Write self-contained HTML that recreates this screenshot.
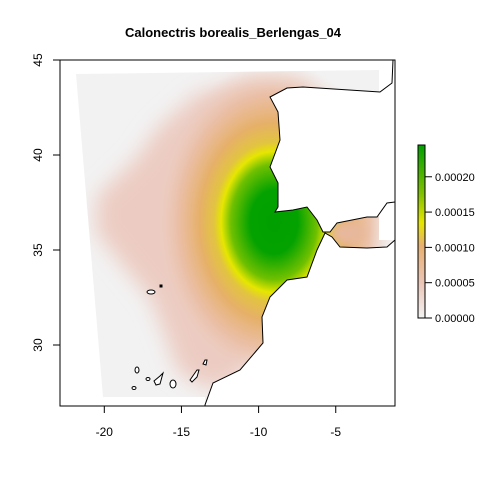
<!DOCTYPE html>
<html><head><meta charset="utf-8"><style>
body{margin:0;background:#fff;}
svg text{font-family:"Liberation Sans",Arial,sans-serif;}
</style></head><body>
<svg id="chart" width="480" height="480" viewBox="0 0 480 480" xmlns="http://www.w3.org/2000/svg">
<defs>
<filter id="blur" x="-30%" y="-30%" width="160%" height="160%"><feGaussianBlur stdDeviation="10"/></filter>
<filter id="blur2" x="-30%" y="-30%" width="160%" height="160%"><feGaussianBlur stdDeviation="5"/></filter>
<radialGradient id="core" cx="274" cy="222" r="1" gradientUnits="userSpaceOnUse" gradientTransform="translate(274 222) scale(120 160) translate(-274 -222)">
<stop offset="0" stop-color="#00a000"/>
<stop offset="0.2" stop-color="#04a200"/>
<stop offset="0.36" stop-color="#70c000"/>
<stop offset="0.44" stop-color="#e6e600"/>
<stop offset="0.5" stop-color="#e2c440"/>
<stop offset="0.62" stop-color="#e6b068"/>
<stop offset="0.8" stop-color="#eabca0" stop-opacity="0.85"/>
<stop offset="1" stop-color="#eccfc6" stop-opacity="0"/>
</radialGradient>
<linearGradient id="cbar" x1="0" y1="1" x2="0" y2="0">
<stop offset="0" stop-color="#f2f2f2"/>
<stop offset="0.2" stop-color="#ebc6b8"/>
<stop offset="0.42" stop-color="#e8b070"/>
<stop offset="0.55" stop-color="#e6e600"/>
<stop offset="0.72" stop-color="#80c000"/>
<stop offset="1" stop-color="#00a000"/>
</linearGradient>
<clipPath id="plotclip"><rect x="60" y="60" width="335" height="346"/></clipPath>
<clipPath id="extclip"><polygon points="76,74 379,70 379,240 365,240 365,225 379,225 379,240 395,240 395,406 205,406 205,397 103,397"/></clipPath>
</defs>
<text x="233" y="37" text-anchor="middle" font-size="13" font-weight="bold">Calonectris borealis_Berlengas_04</text>
<g clip-path="url(#plotclip)">
<polygon points="76,74 379,70 379,240 395,240 395,406 205,406 205,397 103,397" fill="#f2f2f2"/>
<g clip-path="url(#extclip)">
<path d="M245,80 L305,84 L305,200 L340,250 L290,300 L235,385 L205,388 L178,372 L163,330 L150,298 L120,262 L96,232 L97,196 L135,160 L158,128 L195,95 Z" fill="#ecccc2" filter="url(#blur)"/>
<ellipse cx="274" cy="222" rx="120" ry="160" fill="url(#core)"/>
<ellipse cx="348" cy="233" rx="18" ry="12" fill="#e8b89e" filter="url(#blur2)"/>
</g>
<path d="M393,60 L392,83 L380,92 L303,87 L287,88 L270,97 L278,112 L280,140 L270,167 L278,183 L278,207 L275,212 L293,210 L307,207 L317,220 L323,232 L330,232 L337,223 L367,217 L377,217 L387,203 L395,202 L400,202 L400,55 L393,55 Z" fill="#fff" stroke="#000" stroke-width="1"/>
<path d="M400,240 L395,240 L387,247 L367,248 L340,247 L332,237 L325,233 L317,250 L307,277 L287,280 L270,297 L262,317 L263,343 L240,370 L213,383 L205,405 L205,410 L400,410 Z" fill="#fff" stroke="#000" stroke-width="1"/>
<g fill="#fff" stroke="#000" stroke-width="1">
<ellipse cx="151" cy="292" rx="4" ry="2"/>
<rect x="160" y="285" width="2" height="2" fill="#000"/>
<ellipse cx="137" cy="370" rx="2" ry="3"/>
<ellipse cx="134" cy="388" rx="2" ry="1.5"/>
<ellipse cx="148" cy="379" rx="2" ry="1.5"/>
<path d="M154,381 L160,376 L163,373 L160,384 L156,385 Z"/>
<ellipse cx="173" cy="384" rx="3" ry="4"/>
<path d="M190,380 L197,370 L199,370 L197,377 L192,382 Z"/>
<path d="M203,364 L205,360 L207,360 L206,365 Z"/>
</g>
</g>
<rect x="60" y="60" width="335" height="346" fill="none" stroke="#000" stroke-width="1"/>
<g id="axes"></g>
<rect x="418" y="145" width="7" height="173" fill="url(#cbar)" stroke="#000" stroke-width="1"/>
<g id="cbticks"></g>
<script>
const xTicks=[-20,-15,-10,-5];
const yTicks=[30,35,40,45];
const cbTicks=[0,0.00005,0.0001,0.00015,0.0002];
const cbLabels=["0.00000","0.00005","0.00010","0.00015","0.00020"];
const cbMax=0.000245;
const NS="http://www.w3.org/2000/svg";
function xs(lon){return 104.3+(lon+20)*15.43;}
function ys(lat){return 250-(lat-35)*19;}
function cb(v){return 318-v/cbMax*173;}
function mk(tag,attrs,parent){const e=document.createElementNS(NS,tag);for(const k in attrs)e.setAttribute(k,attrs[k]);parent.appendChild(e);return e;}
const ax=document.getElementById('axes');
xTicks.forEach(v=>{const x=xs(v);
const l=mk('line',{x1:x,x2:x,y1:406,y2:413,stroke:'#000'},ax);


const t=mk('text',{x:x,y:436,'text-anchor':'middle','font-size':12},ax);t.textContent=v;

});
yTicks.forEach(v=>{const y=ys(v);
const l=mk('line',{x1:53,x2:60,y1:y,y2:y,stroke:'#000'},ax);


const t=mk('text',{x:42,y:y,'text-anchor':'middle','font-size':12,transform:'rotate(-90 42 '+y+')'},ax);t.textContent=v;

});
const cg=document.getElementById('cbticks');
cbTicks.forEach((v,i)=>{const y=cb(v);
const l=mk('line',{x1:425,x2:432,y1:y,y2:y,stroke:'#000'},cg);


const t=mk('text',{x:435,y:y+4,'font-size':11},cg);t.textContent=cbLabels[i];

});
</script>
</svg>
</body></html>
